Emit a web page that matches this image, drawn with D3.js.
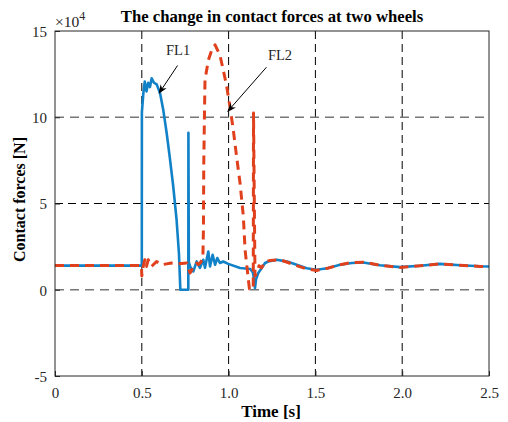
<!DOCTYPE html>
<html><head><meta charset="utf-8">
<script src="https://cdn.jsdelivr.net/npm/d3@7"></script>
<style>body{margin:0;background:#fff}svg{display:block}</style>
</head><body>
<svg id="c" width="508" height="422"></svg>
<script>
const title = "The change in contact forces at two wheels";
const xLabel = "Time [s]";
const yLabel = "Contact forces [N]";
const xTicks = [0, 0.5, 1.0, 1.5, 2.0, 2.5];
const xTickLabels = ["0", "0.5", "1.0", "1.5", "2.0", "2.5"];
const yTicks = [-5, 0, 5, 10, 15];
const yTickLabels = ["-5", "0", "5", "10", "15"];
// values in units of 1e4 N
const fl1T = [0,0.5,0.5005,0.509,0.517,0.527,0.537,0.547,0.557,0.57,0.586,0.605,0.624,0.643,0.662,0.681,0.70,0.714,0.722,0.768,0.7685,0.771,0.778,0.797,0.816,0.835,0.854,0.864,0.883,0.893,0.908,0.922,0.935,0.95,0.969,0.998,1.066,1.125,1.14,1.147,1.152,1.158,1.171,1.191,1.21,1.229,1.278,1.35,1.392,1.45,1.507,1.57,1.642,1.71,1.776,1.872,1.987,2.103,2.218,2.333,2.448,2.5];
const fl1V = [1.4,1.4,10.3,11.4,12.07,11.5,12.0,11.75,12.26,12.0,11.9,11.4,10.4,9.1,7.6,6.0,4.1,2.1,0,0,9.1,1.6,1.35,1.06,1.64,1.27,1.74,1.27,2.22,1.35,2.03,1.45,1.84,1.55,1.64,1.5,1.26,1.2,1.0,0.6,0.1,0.6,0.97,1.26,1.55,1.64,1.74,1.6,1.45,1.25,1.16,1.25,1.45,1.55,1.58,1.42,1.31,1.39,1.5,1.42,1.36,1.35];
const fl2T = [0,0.498,0.5,0.505,0.517,0.527,0.537,0.556,0.585,0.614,0.67,0.71,0.759,0.778,0.788,0.807,0.817,0.826,0.84,0.852,0.855,0.857,0.861,0.864,0.883,0.903,0.922,0.95,0.969,0.989,1.008,1.027,1.046,1.066,1.085,1.095,1.114,1.12,1.142,1.1435,1.152,1.165,1.175,1.19,1.21,1.24,1.296,1.35,1.392,1.45,1.507,1.57,1.642,1.71,1.776,1.872,1.987,2.103,2.218,2.333,2.448,2.5];
const fl2V = [1.4,1.4,0.8,1.2,1.74,1.35,1.74,1.35,1.64,1.45,1.55,1.5,1.55,0.97,1.16,1.35,1.55,1.45,1.6,1.9,3.5,7.3,10.2,12.17,13.3,13.9,14.2,13.6,12.75,11.8,10.6,9.27,7.72,6.18,4.25,2.3,0.58,0.05,0.05,10.24,0.8,1.0,1.39,1.27,1.62,1.7,1.74,1.55,1.4,1.2,1.12,1.25,1.45,1.58,1.6,1.42,1.29,1.39,1.5,1.42,1.35,1.35];
const annotations = [
  {label:"FL1", tx:0.709, ty:13.6, ax:0.706, ay:13.0, hx:0.60, hy:11.4},
  {label:"FL2", tx:1.296, ty:13.3, ax:1.218, ay:12.9, hx:0.996, hy:10.35}
];

const svg = d3.select("#c");
const L = 55, R = 489, T = 31, B = 376;
const x = d3.scaleLinear().domain([0, 2.5]).range([L, R]);
const y = d3.scaleLinear().domain([-5, 15]).range([B, T]);
const font = "'Liberation Serif','Times New Roman',serif";

svg.append("defs").append("marker").attr("id","arr").attr("viewBox","0 0 10 10")
  .attr("refX",9).attr("refY",5).attr("markerWidth",9).attr("markerHeight",9)
  .attr("markerUnits","userSpaceOnUse").attr("orient","auto")
  .append("path").attr("d","M0,1 L10,5 L0,9 L3,5 Z").attr("fill","#000");

// grid
const g = svg.append("g");
g.selectAll(".vg").data(xTicks.filter(d => d > 0 && d < 2.5)).join("line")
  .attr("x1", d => x(d)).attr("x2", d => x(d)).attr("y1", T).attr("y2", B)
  .attr("stroke", "#000").attr("stroke-width", 1).attr("stroke-dasharray", "8,5");
g.selectAll(".hg").data([5]).join("line")
  .attr("x1", L).attr("x2", R).attr("y1", d => y(d)).attr("y2", d => y(d))
  .attr("stroke", "#000").attr("stroke-width", 1).attr("stroke-dasharray", "8,5");
g.selectAll(".hg2").data([0, 10]).join("line")
  .attr("x1", L).attr("x2", R).attr("y1", d => y(d)).attr("y2", d => y(d))
  .attr("stroke", "#777").attr("stroke-width", 1.5).attr("stroke-dasharray", "9,6");

// lines
const line = d3.line().x(d => x(d[0])).y(d => y(d[1]));
svg.append("path").datum(fl1T.map((t,i)=>[t, fl1V[i]]))
  .attr("d", line).attr("fill","none").attr("stroke","#1181C8")
  .attr("stroke-width", 2.6).attr("stroke-linejoin","round");
svg.append("path").datum(fl2T.map((t,i)=>[t, fl2V[i]]))
  .attr("d", line).attr("fill","none").attr("stroke","#E0401C")
  .attr("stroke-width", 3).attr("stroke-dasharray","9,6").attr("stroke-linejoin","round");

// axes
const xa = svg.append("g").attr("transform", `translate(0,${B})`)
  .call(d3.axisBottom(x).tickValues(xTicks).tickFormat((d,i)=>xTickLabels[i]).tickSizeInner(-5).tickSizeOuter(0).tickPadding(9));
const ya = svg.append("g").attr("transform", `translate(${L},0)`)
  .call(d3.axisLeft(y).tickValues(yTicks).tickFormat((d,i)=>yTickLabels[i]).tickSizeInner(-5).tickSizeOuter(0).tickPadding(8));
[xa, ya].forEach(a => {
  a.select(".domain").remove();
  a.selectAll("line").attr("stroke","#262626");
  a.selectAll("text").attr("font-family", font).attr("font-size", 15).attr("fill","#262626");
});
xa.selectAll("text").attr("dy","0.85em");
ya.selectAll("text").attr("dy","0.35em");
svg.append("rect").attr("x",L).attr("y",T).attr("width",R-L).attr("height",B-T)
  .attr("fill","none").attr("stroke","#262626").attr("stroke-width",1);

// exponent
const ex = svg.append("text").attr("x", L).attr("y", 27).attr("font-family", font)
  .attr("font-size", 15.5).attr("fill","#262626");
ex.append("tspan").text("\u00d710");
ex.append("tspan").attr("dy", -7).attr("font-size", 12).text("4");

// title and labels
svg.append("text").attr("x", 272).attr("y", 22).attr("text-anchor","middle")
  .attr("font-family", font).attr("font-weight","bold").attr("font-size", 16.7).attr("fill","#000").text(title);
svg.append("text").attr("x", 271).attr("y", 417).attr("text-anchor","middle")
  .attr("font-family", font).attr("font-weight","bold").attr("font-size", 17).attr("fill","#000").text(xLabel);
svg.append("text").attr("transform", `translate(25,${(T+B)/2 - 4}) rotate(-90)`).attr("text-anchor","middle")
  .attr("font-family", font).attr("font-weight","bold").attr("font-size", 16).attr("fill","#000").text(yLabel);

// annotations
annotations.forEach(a => {
  svg.append("text").attr("x", x(a.tx)).attr("y", y(a.ty)).attr("text-anchor","middle")
    .attr("font-family", font).attr("font-size", 14.5).attr("fill","#262626").text(a.label);
  svg.append("line").attr("x1", x(a.ax)).attr("y1", y(a.ay)).attr("x2", x(a.hx)).attr("y2", y(a.hy))
    .attr("stroke","#000").attr("stroke-width",1).attr("marker-end","url(#arr)");
});
</script>
</body></html>
